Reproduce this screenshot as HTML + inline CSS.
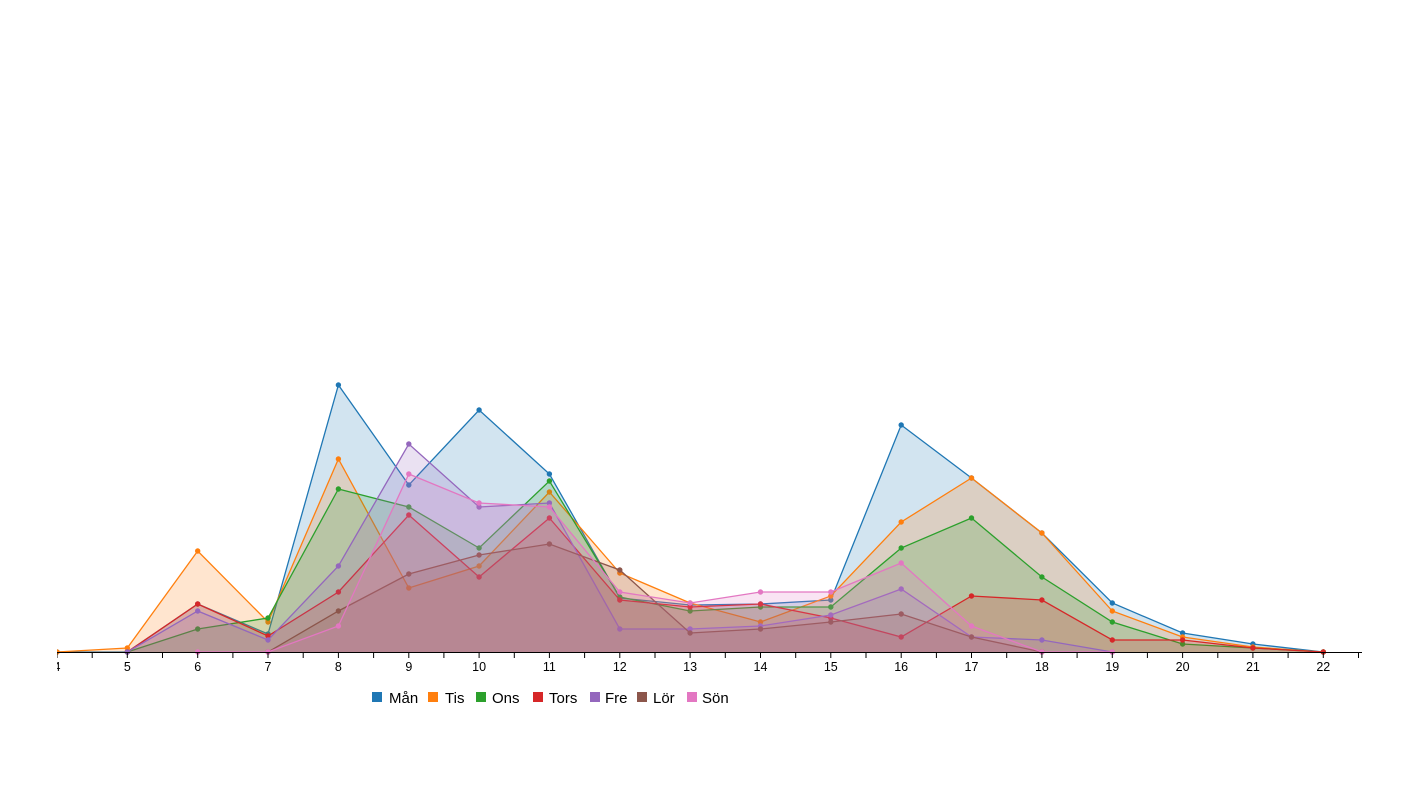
<!DOCTYPE html>
<html><head><meta charset="utf-8"><style>
html,body{margin:0;padding:0;background:#fff;}
svg{display:block;font-family:"Liberation Sans",sans-serif;}
</style></head><body>
<svg id="c" width="1422" height="800" xmlns="http://www.w3.org/2000/svg"></svg>
<script>
var S=document.getElementById('c');
function X(h){return 57+(h-4)*70.35;}
var B=652;
var series=[
['#1f77b4',{4:652,5:652,6:604,7:634,8:385,9:485,10:410,11:474,12:598,13:605,14:604,15:600,16:425,17:478,18:533,19:603,20:633,21:644,22:652}],
['#ff7f0e',{4:652,5:648,6:551,7:622,8:459,9:588,10:566,11:492,12:573,13:603,14:622,15:596,16:522,17:478,18:533,19:611,20:637,21:647,22:652}],
['#2ca02c',{5:652,6:629,7:618,8:489,9:507,10:548,11:481,12:597,13:611,14:607,15:607,16:548,17:518,18:577,19:622,20:644,21:648,22:652}],
['#d62728',{5:652,6:604,7:636,8:592,9:515,10:577,11:518,12:600,13:607,14:604,15:618,16:637,17:596,18:600,19:640,20:640,21:648,22:652}],
['#9467bd',{5:652,6:611,7:640,8:566,9:444,10:507,11:503,12:629,13:629,14:626,15:615,16:589,17:637,18:640,19:652}],
['#8c564b',{7:652,8:611,9:574,10:555,11:544,12:570,13:633,14:629,15:622,16:614,17:637,18:652}],
['#e377c2',{6:652,7:652,8:626,9:474,10:503,11:507,12:592,13:603,14:592,15:592,16:563,17:626,18:652,19:652}]
];
var h='<defs><clipPath id="cl"><rect x="57" y="0" width="1365" height="800"/></clipPath></defs><g clip-path="url(#cl)">';
series.forEach(function(s){
 var c=s[0],d=s[1],ks=Object.keys(d).map(Number).sort(function(a,b){return a-b});
 var pts=ks.map(function(k){return X(k).toFixed(1)+','+d[k];});
 h+='<path d="M'+X(ks[0]).toFixed(1)+','+B+' L'+pts.join(' L')+' L'+X(ks[ks.length-1]).toFixed(1)+','+B+'Z" fill="'+c+'" fill-opacity="0.2" stroke="none"/>';
 h+='<polyline points="'+pts.join(' ')+'" fill="none" stroke="'+c+'" stroke-width="1.3"/>';
 ks.forEach(function(k){h+='<circle cx="'+X(k).toFixed(1)+'" cy="'+d[k]+'" r="2.7" fill="'+c+'"/>';});
});
h+='<line x1="57" y1="652.5" x2="1362" y2="652.5" stroke="#000" stroke-width="1"/>';
for(var t=4;t<=22.5;t+=0.5){var x=X(t).toFixed(1);h+='<line x1="'+x+'" y1="652" x2="'+x+'" y2="658" stroke="#000"/>';}
for(var t=4;t<=22;t++){h+='<text x="'+X(t).toFixed(1)+'" y="671" font-size="12.5" text-anchor="middle">'+t+'</text>';}
h+='</g>';
var L=[['Mån',372,389],['Tis',428,445],['Ons',476,492],['Tors',533,549],['Fre',590,605],['Lör',637,653],['Sön',687,702]];
L.forEach(function(l,i){h+='<rect x="'+l[1]+'" y="692" width="10" height="10" fill="'+series[i][0]+'"/><text x="'+l[2]+'" y="703" font-size="15">'+l[0]+'</text>';});
S.innerHTML=h;
</script>
</body></html>
